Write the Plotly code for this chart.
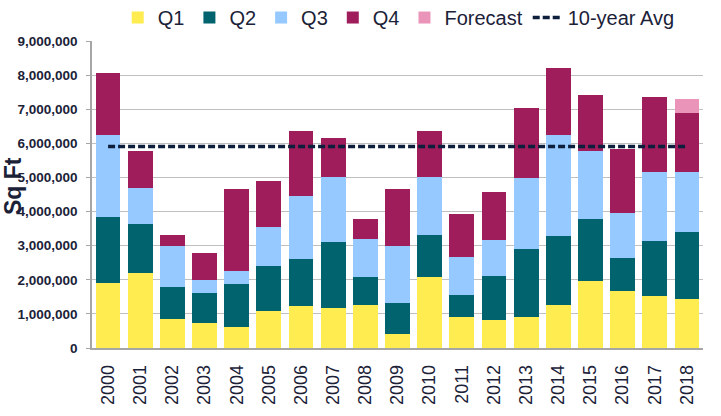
import plotly.graph_objects as go

years = [str(y) for y in range(2000, 2019)]
q1 = [1.92, 2.21, 0.86, 0.73, 0.61, 1.08, 1.23, 1.16, 1.25, 0.42, 2.09, 0.91, 0.83, 0.91, 1.26, 1.96, 1.66, 1.51, 1.44]
q2 = [1.93, 1.43, 0.93, 0.88, 1.28, 1.33, 1.39, 1.96, 0.84, 0.91, 1.23, 0.65, 1.29, 1.98, 2.03, 1.83, 0.99, 1.64, 1.96]
q3 = [2.38, 1.04, 1.20, 0.37, 0.37, 1.14, 1.83, 1.89, 1.10, 1.66, 1.69, 1.11, 1.06, 2.10, 2.94, 2.00, 1.31, 2.02, 1.77]
q4 = [1.84, 1.10, 0.33, 0.81, 2.39, 1.35, 1.92, 1.15, 0.60, 1.66, 1.36, 1.27, 1.39, 2.05, 1.97, 1.63, 1.87, 2.20, 1.73]
forecast = [0, 0, 0, 0, 0, 0, 0, 0, 0, 0, 0, 0, 0, 0, 0, 0, 0, 0, 0.40]
avg10 = [5.91] * len(years)

M = 1_000_000
def sc(v):
    return [x * M for x in v]

TXT = "#1b2238"
FONT = "Liberation Sans, Arial, sans-serif"

fig = go.Figure()
series = [("Q1", q1, "#FFEC50"), ("Q2", q2, "#00636D"), ("Q3", q3, "#95C9FF"),
          ("Q4", q4, "#9E1D5A"), ("Forecast", forecast, "#EA94BA")]
for name, vals, col in series:
    fig.add_trace(go.Bar(x=years, y=sc(vals), name=name, marker=dict(color=col, line=dict(width=0))))

fig.add_trace(go.Scatter(x=years, y=sc(avg10), name="10-year Avg", mode="lines",
                         line=dict(color="#0D1F3C", width=3.5, dash="7px,3px")))

fig.update_layout(
    barmode="stack",
    bargap=0.23,
    width=721, height=416,
    margin=dict(l=92, r=18, t=41, b=68, autoexpand=False),
    paper_bgcolor="white", plot_bgcolor="white",
    font=dict(family=FONT, color=TXT),
    showlegend=True,
    legend=dict(orientation="h", x=0.502, xanchor="center", y=1.14, yanchor="top",
                font=dict(size=20, color=TXT), traceorder="normal", itemwidth=30,
                bgcolor="rgba(0,0,0,0)"),
    xaxis=dict(type="category", tickangle=-90, tickfont=dict(size=18, color=TXT),
               showline=True, linecolor="#A6A6A6", linewidth=1.5, ticks="", showgrid=False,
               ticklabelstandoff=8, automargin=False),
    yaxis=dict(range=[0, 9 * M], dtick=M, tickformat=",d", showgrid=True, gridcolor="#C0C0C0",
               gridwidth=1, showline=True, linecolor="#A6A6A6", linewidth=1.5, ticks="outside",
               ticklen=4, tickcolor="#A6A6A6",
               tickfont=dict(size=13.5, color=TXT, family=FONT, weight="bold"),
               ticklabelstandoff=6,
               automargin=False, zeroline=False),
    annotations=[dict(text="<b>Sq Ft</b>", xref="paper", yref="paper", x=-0.13, y=0.526,
                      xanchor="center", yanchor="middle", textangle=-90, showarrow=False,
                      font=dict(size=23, color=TXT, family=FONT))],
)

fig.write_html("out.html", config={"displayModeBar": False},
               post_script="document.body.style.margin='0';")
